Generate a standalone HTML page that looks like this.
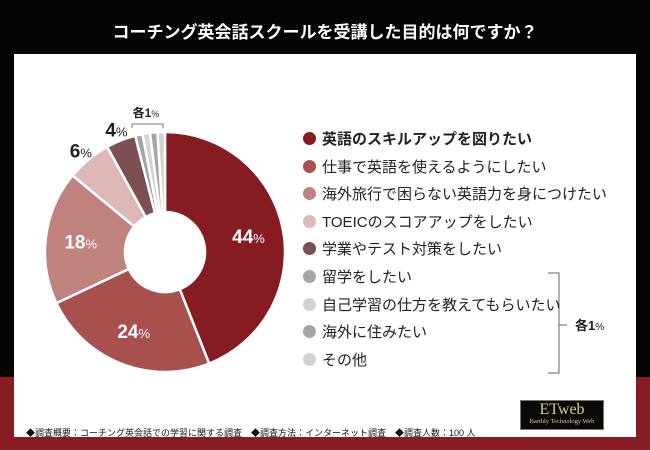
<!DOCTYPE html>
<html><head><meta charset="utf-8"><style>
body{margin:0;width:650px;height:450px;overflow:hidden;background:#050303;font-family:"Liberation Sans","Noto Sans CJK JP",sans-serif;position:relative}
#red{position:absolute;left:0;top:377px;width:650px;height:73px;background:#861c22}
#title{position:absolute;left:0;top:18px;width:650px;text-align:center;color:#fff;font-size:17px;font-weight:bold}
#panel{position:absolute;left:14px;top:54px;width:622px;height:383px;background:#fff}
.lg{position:absolute;left:303px;font-size:15px;color:#222;white-space:nowrap;line-height:18px}
.lg i{display:inline-block;width:13px;height:13px;border-radius:50%;margin-right:6px;vertical-align:-1px}
#foot{position:absolute;left:26px;top:426px;font-size:9px;color:#111;white-space:nowrap}
#logo{position:absolute;left:520px;top:400px;width:82px;height:28px;background:#0a0806;border:1px solid #777;color:#d8cc90;text-align:center}
</style></head><body>
<div id="red"></div>
<div id="title">コーチング英会話スクールを受講した目的は何ですか？</div>
<div id="panel"></div>
<svg id="pie" width="650" height="450" style="position:absolute;left:0;top:0"></svg>
<div id="legend"></div>
<div id="foot">◆調査概要：コーチング英会話での学習に関する調査　◆調査方法：インターネット調査　◆調査人数：100 人</div>
<div id="logo"><div style="font-size:16px;font-family:'Liberation Serif',serif;line-height:17px">ETweb</div><div style="font-size:6.5px;font-family:'Liberation Serif',serif">Barthly Technology Web</div></div>
<script>
const categories=["英語のスキルアップを図りたい","仕事で英語を使えるようにしたい","海外旅行で困らない英語力を身につけたい","TOEICのスコアアップをしたい","学業やテスト対策をしたい","留学をしたい","自己学習の仕方を教えてもらいたい","海外に住みたい","その他"];
const values=[44,24,18,6,4,1,1,1,1];
const colors=["#861c22","#a8504e","#bf827f","#dcb9b6","#7c4f50","#a5a5a5","#d3d3d3","#a5a5a5","#d3d3d3"];
const labels=["44","24","18","6","4"];
const NS="http://www.w3.org/2000/svg";
const svg=document.getElementById('pie');
const cx=165,cy=252,R=120,r=40;
const total=values.reduce((a,b)=>a+b,0);
function pt(a,rad){return [cx+rad*Math.sin(a),cy-rad*Math.cos(a)];}
let a0=0;
values.forEach((v,i)=>{
  const a1=a0+v/total*2*Math.PI;
  const [x1,y1]=pt(a0,R),[x2,y2]=pt(a1,R),[x3,y3]=pt(a1,r),[x4,y4]=pt(a0,r);
  const lg=(a1-a0)>Math.PI?1:0;
  const p=document.createElementNS(NS,'path');
  p.setAttribute('d',`M${x1},${y1}A${R},${R} 0 ${lg} 1 ${x2},${y2}L${x3},${y3}A${r},${r} 0 ${lg} 0 ${x4},${y4}Z`);
  p.setAttribute('fill',colors[i]);p.setAttribute('stroke','#fff');p.setAttribute('stroke-width','2.5');
  
  
  svg.appendChild(p);
  if(i<labels.length){
    const mid=(a0+a1)/2;
    const inside=v>=10;
    const [lx,ly]=pt(mid,inside?85:R+12);
    const t=document.createElementNS(NS,'text');
    t.setAttribute('x',lx);t.setAttribute('y',ly+7);t.setAttribute('text-anchor','middle');
    t.setAttribute('font-size','19');t.setAttribute('font-weight','bold');
    t.setAttribute('font-family','"Liberation Sans",sans-serif');
    t.setAttribute('fill',inside?'#fff':'#222');
    t.innerHTML=labels[i]+'<tspan font-size="13" font-weight="normal">%</tspan>';
    
    
    svg.appendChild(t);
  }
  a0=a1;
});
const br=document.createElementNS(NS,'path');
br.setAttribute('d','M132,128L132,124L163,124L163,128');br.setAttribute('fill','none');br.setAttribute('stroke','#777');


svg.appendChild(br);
const t1=document.createElementNS(NS,'text');
t1.setAttribute('x',146);t1.setAttribute('y',117);t1.setAttribute('text-anchor','middle');t1.setAttribute('font-size','12');t1.setAttribute('font-weight','bold');t1.setAttribute('fill','#222');
t1.innerHTML='各1<tspan font-size="9" font-weight="normal">%</tspan>';


svg.appendChild(t1);
const lb=document.createElementNS(NS,'path');
lb.setAttribute('d','M548,273L559,273L559,373L548,373M559,325L567,325');lb.setAttribute('fill','none');lb.setAttribute('stroke','#666');


svg.appendChild(lb);
const t2=document.createElementNS(NS,'text');
t2.setAttribute('x',575);t2.setAttribute('y',330);t2.setAttribute('font-size','13');t2.setAttribute('font-weight','bold');t2.setAttribute('fill','#222');
t2.innerHTML='各1<tspan font-size="10" font-weight="normal">%</tspan>';


svg.appendChild(t2);
const leg=document.getElementById('legend');
categories.forEach((c,i)=>{
  const d=document.createElement('div');d.className='lg';
  d.style.top=(131+i*27.6)+'px';
  if(i===0)d.style.fontWeight='bold';
  d.innerHTML=`<i style="background:${colors[i]}"></i>${c}`;
  
  
  leg.appendChild(d);
});
</script>
</body></html>
